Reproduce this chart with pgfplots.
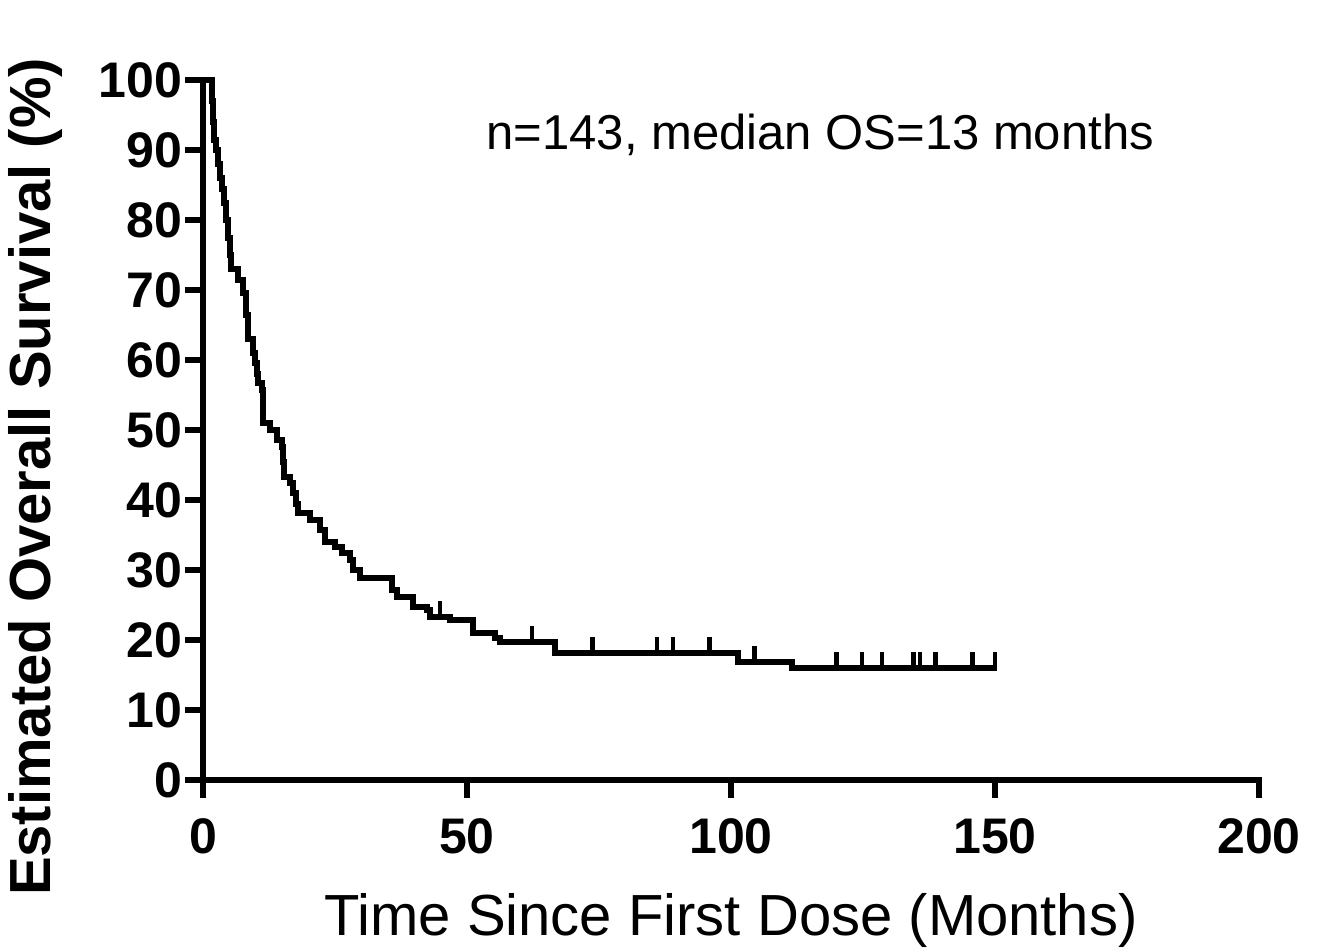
\documentclass[border=0pt]{standalone}
\usepackage{pgfplots}
\pgfplotsset{compat=1.18}
\usepackage{fontspec}
\setmainfont{Liberation Sans}

\pgfdeclareplotmark{cens}{%
  \pgfpathmoveto{\pgfpoint{0pt}{0pt}}%
  \pgfpathlineto{\pgfpoint{0pt}{8pt}}%
  \pgfusepathqstroke}

\begin{document}
\begin{tikzpicture}
\path[use as bounding box] (-101.5pt,-84.5pt) rectangle (558pt,390pt);
\begin{axis}[
  at={(0,0)}, anchor=origin,
  scale only axis,
  width=528pt, height=350pt,
  xmin=0, xmax=200, ymin=0, ymax=100,
  axis lines=left,
  axis line style={-, line width=2.6pt, line cap=rect},
  xtick={0,50,...,200},
  ytick={0,10,...,100},
  tick align=outside,
  major tick length=9pt,
  every tick/.style={black, line width=2.6pt},
  /pgf/number format/assume math mode=true,
  ticklabel style={font=\bfseries\fontsize{25}{30}\selectfont},
  yticklabel style={xshift=2pt},
  xticklabel style={yshift=-7pt},
  clip=false,
  xlabel={Time Since First Dose (Months)},
  ylabel={Estimated Overall Survival (\%)},
  every axis x label/.style={at={(axis description cs:0.5,0)}, anchor=base, yshift=-77.5pt,
    font=\fontsize{29}{34}\selectfont},
  every axis y label/.style={at={(axis description cs:-0.159,0.433)}, anchor=center, rotate=90,
    font=\bfseries\fontsize{29}{34}\selectfont},
]
\addplot[const plot, black, line width=3pt, mark=none] coordinates {
(0,100) (1.7,97) (1.9,94) (2.1,91.5) (2.5,90) (2.8,88) (3.2,86) (3.6,84.5)
(4.0,82.5) (4.4,80) (4.7,77.5) (5.1,75) (5.3,73) (6.6,71.5) (7.6,69.6)
(8.1,66.5) (8.5,63) (9.5,61) (9.8,59.6) (10.2,58) (10.4,56.7) (11.2,55.7)
(11.3,53) (11.4,51) (12.7,50) (14.0,48.6) (15.0,47.6) (15.2,45.5) (15.3,43.3)
(16.5,42.4) (17.0,41) (17.6,39.5) (18.0,38.1) (20.3,37.1) (22.2,35.7)
(23.1,34) (25.0,33.3) (26.3,32.4) (27.8,31.4) (28.4,30) (29.7,28.9)
(35.8,27.1) (36.7,26.1) (39.8,24.7) (42.4,24.3) (43.0,23.3) (46.8,22.9)
(51.1,21) (55.3,20.3) (56.2,19.7) (66.7,18.1) (101.3,16.9) (111.6,16) (150.4,16)
};
\addplot[only marks, mark=cens, black, line width=2.4pt] coordinates {
(44.9,23.3) (62.3,19.7) (73.7,18.1) (86,18.1) (89,18.1) (96,18.1)
(104.5,16.9) (120,16) (124.8,16) (128.6,16) (134.5,16) (135.8,16)
(138.7,16) (145.8,16) (150,16)
};
\node[font=\fontsize{24.5}{29}\selectfont] at (axis cs:116.9,92.1) {n=143, median OS=13 months};
\end{axis}
\end{tikzpicture}
\end{document}
